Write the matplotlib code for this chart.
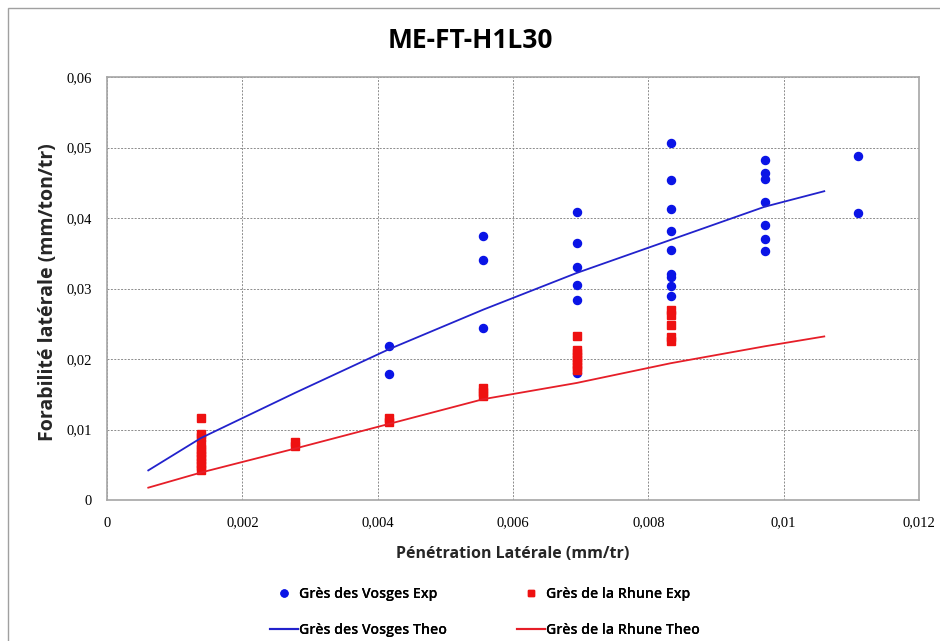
import numpy as np
import matplotlib
matplotlib.use('Agg')
import matplotlib.pyplot as plt
from matplotlib.ticker import FuncFormatter, MultipleLocator
from matplotlib.lines import Line2D
from matplotlib.patches import Rectangle

# penetration steps (mm/tr)
x_steps = [0.00139, 0.00278, 0.00417, 0.00556, 0.00694, 0.00833, 0.00972, 0.0111]

# Gres des Vosges - experimental points
vosges_exp_x = ([0.00417] * 2 + [0.00556] * 3 + [0.00694] * 6 + [0.00833] * 9
                + [0.00972] * 7 + [0.0111] * 2)
vosges_exp_y = [0.0219, 0.0179,
                0.0375, 0.0341, 0.0244,
                0.0409, 0.0364, 0.0331, 0.0305, 0.0284, 0.0180,
                0.0507, 0.0454, 0.0413, 0.0381, 0.0355, 0.0321, 0.0317, 0.0304, 0.0290,
                0.0482, 0.0464, 0.0456, 0.0422, 0.0390, 0.0370, 0.0353,
                0.0488, 0.0407]

# Gres de la Rhune - experimental points
rhune_exp_x = ([0.00139] * 11 + [0.00278] * 2 + [0.00417] * 2 + [0.00556] * 3
               + [0.00694] * 8 + [0.00833] * 5)
rhune_exp_y = [0.0117, 0.0093, 0.0089, 0.0079, 0.0073, 0.0068, 0.0063, 0.0058, 0.0053, 0.0048, 0.0043,
               0.0077, 0.0082,
               0.0111, 0.0116,
               0.0159, 0.0153, 0.0147,
               0.0233, 0.0213, 0.0208, 0.0203, 0.0198, 0.0193, 0.0188, 0.0184,
               0.0270, 0.0262, 0.0248, 0.0231, 0.0226]

# theoretical curves
theo_x = [0.00061, 0.00139, 0.00278, 0.00417, 0.00556, 0.00694, 0.00833, 0.00972, 0.0106]
vosges_theo_y = [0.0042, 0.0088, 0.0152, 0.0214, 0.0270, 0.0322, 0.0369, 0.0416, 0.0438]
rhune_theo_y = [0.00175, 0.0039, 0.0073, 0.0108, 0.0143, 0.0166, 0.0194, 0.0218, 0.0232]

blue = '#0A14E6'
red = '#EE1111'
blue_line = '#2222CC'
red_line = '#E61E28'

W, H = 940, 641
fig = plt.figure(figsize=(9.4, 6.41), dpi=100)
ax = fig.add_axes([107 / W, 1 - 500 / H, 812 / W, 423 / H])

ax.plot(vosges_exp_x, vosges_exp_y, ls='none', marker='o', ms=5.8, color=blue, mec=blue)
ax.plot(rhune_exp_x, rhune_exp_y, ls='none', marker='s', ms=5.6, color=red, mec=red)
ax.plot(theo_x, vosges_theo_y, ls='-', lw=1.3, color=blue_line)
ax.plot(theo_x, rhune_theo_y, ls='-', lw=1.3, color=red_line)

ax.set_xlim(0, 0.012)
ax.set_ylim(0, 0.06)
ax.xaxis.set_major_locator(MultipleLocator(0.002))
ax.yaxis.set_major_locator(MultipleLocator(0.01))
fmt = FuncFormatter(lambda v, p: ('%g' % round(v, 6)).replace('.', ','))
ax.xaxis.set_major_formatter(fmt)
ax.yaxis.set_major_formatter(fmt)
ax.tick_params(length=0, labelsize=10.5, pad=12)
ax.tick_params(axis='y', pad=11)
for lab in ax.get_xticklabels() + ax.get_yticklabels():
	lab.set_family('Liberation Serif')
ax.grid(True, ls=(0, (2, 1.5)), color='#8C8C8C', lw=0.7)
for s in ax.spines.values():
	s.set_color('#A6A6A6')
	s.set_linewidth(1.2)

fig.text(0.5, 1 - 40 / H, 'ME-FT-H1L30', ha='center', va='center',
		 fontsize=19, fontweight='bold', family='Open Sans')
fig.text(513 / W, 1 - 554 / H, 'Pénétration Latérale (mm/tr)', ha='center', va='center',
		 fontsize=11.5, fontweight='bold', family='Open Sans', color='#262626')
fig.text(48 / W, 1 - 292 / H, 'Forabilité latérale (mm/ton/tr)', ha='center', va='center',
		 rotation=90, fontsize=14, fontweight='bold', family='Open Sans', color='#262626')

# legend: one block per column, placed like the Excel legend
prop = {'family': 'Open Sans', 'size': 10.2, 'weight': 'semibold'}
col1 = [Line2D([], [], ls='none', marker='o', ms=5, color=blue),
		Line2D([], [], ls='-', lw=1.5, color=blue_line)]
col2 = [Line2D([], [], ls='none', marker='s', ms=5, color=red),
		Line2D([], [], ls='-', lw=1.5, color=red_line)]
for hnd, labs, x0 in [(col1, ['Grès des Vosges Exp', 'Grès des Vosges Theo'], 270),
					  (col2, ['Grès de la Rhune Exp', 'Grès de la Rhune Theo'], 517)]:
	leg = fig.legend(hnd, labs, loc='center left', bbox_to_anchor=(x0 / W, 1 - 612 / H),
					 frameon=False, handlelength=1.95, handletextpad=0.1,
					 labelspacing=1.55, borderpad=0, borderaxespad=0, prop=prop)
	fig.add_artist(leg)

fig.patches.append(Rectangle((8 / W, -0.05), 1.1, 1 - 8 / H + 0.05, transform=fig.transFigure,
							 fill=False, ec='#A0A0A0', lw=1.0))

fig.savefig('out.png', dpi=100)
